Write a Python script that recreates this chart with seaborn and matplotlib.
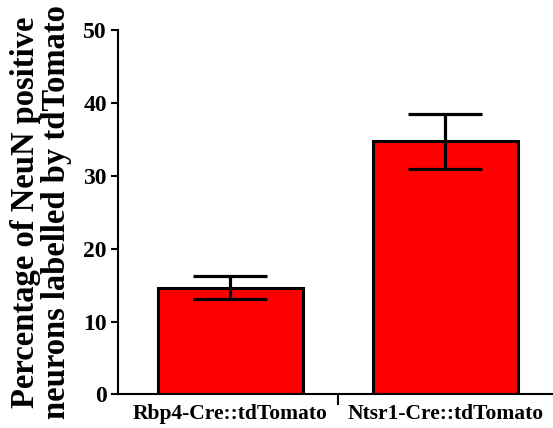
import numpy as np
import pandas as pd
import matplotlib
matplotlib.use("Agg")
import matplotlib.pyplot as plt
import seaborn as sns

# values
groups = ["Rbp4-Cre::tdTomato", "Ntsr1-Cre::tdTomato"]
means = [14.65, 34.75]
errs = [1.6, 3.75]
yticks = [0, 10, 20, 30, 40, 50]

sns.set_style("ticks")
plt.rcParams["font.family"] = ["Liberation Serif", "DejaVu Serif"]
plt.rcParams["font.weight"] = "bold"
for key in ["text.color", "axes.labelcolor", "xtick.color", "ytick.color", "axes.edgecolor"]:
    plt.rcParams[key] = "black"

df = pd.DataFrame({"group": groups, "pct": means})

fig = plt.figure(figsize=(5.53, 4.28), dpi=100)
ax = fig.add_axes([0.2134, 0.0783, 0.7866, 0.8516])

sns.barplot(data=df, x="group", y="pct", color="#FF0000", saturation=1,
            edgecolor="black", linewidth=2.2, width=0.674, errorbar=None, ax=ax)
ax.errorbar(x=np.arange(len(groups)), y=means, yerr=errs, fmt="none",
            ecolor="black", elinewidth=2.3, capsize=26.5, capthick=2.3, zorder=5)

ax.set_xlim(-0.523, 1.5)
ax.set_ylim(0, 50)
ax.set_yticks(yticks)
ax.set_xlabel("")
ax.set_ylabel("Percentage of NeuN positive\nneurons labelled by tdTomato",
              fontsize=23.5, fontweight="bold", linespacing=1.0, labelpad=8)

ax.tick_params(axis="y", labelsize=17, length=5, width=1.5, pad=3)
ax.tick_params(axis="x", which="major", labelsize=15.5, length=0, pad=7)
ax.set_xticks([0.5], minor=True)
ax.tick_params(axis="x", which="minor", length=8, width=1.5)
for lab in ax.get_xticklabels() + ax.get_yticklabels():
    lab.set_fontweight("bold")

sns.despine(ax=ax)
for s in ["left", "bottom"]:
    ax.spines[s].set_linewidth(1.5)

fig.savefig("out.png", dpi=100)
